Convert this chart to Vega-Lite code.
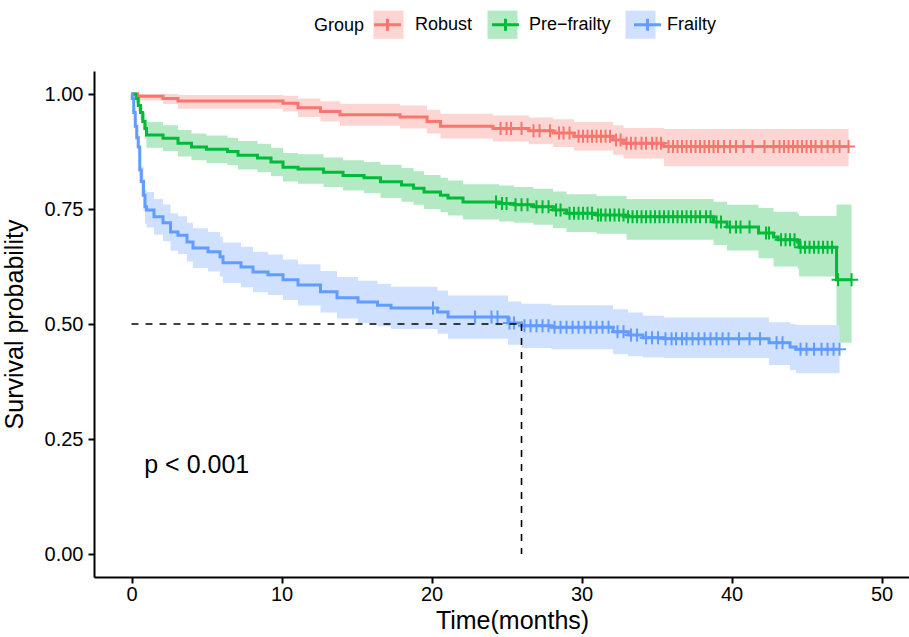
{
  "$schema": "https://vega.github.io/schema/vega-lite/v6.json",
  "width": 815,
  "height": 506,
  "autosize": {"type": "none"},
  "padding": {"left": 94, "top": 71, "right": 0, "bottom": 60},
  "background": "white",
  "config": {
    "font": "Liberation Sans",
    "view": {"stroke": null},
    "axis": {
      "domainColor": "#000000", "domainWidth": 2, "tickColor": "#000000", "tickWidth": 2, "tickSize": 6,
      "labelColor": "#000000", "labelFontSize": 20, "titleColor": "#000000", "titleFontSize": 25,
      "titleFontWeight": "normal", "grid": false, "labelFont": "Liberation Sans", "titleFont": "Liberation Sans"
    },
    "legend": {
      "titleFontWeight": "normal", "titleColor": "#000000", "labelColor": "#000000",
      "titleFontSize": 18, "labelFontSize": 18, "titleFont": "Liberation Sans", "labelFont": "Liberation Sans"
    }
  },
  "datasets": {
    "curves": [
      {"group": "Robust", "time": 0, "surv": 1, "lower": 1, "upper": 1},
      {"group": "Robust", "time": 0.4, "surv": 0.995, "lower": 0.986, "upper": 1.0},
      {"group": "Robust", "time": 2.1, "surv": 0.99, "lower": 0.978, "upper": 1.0},
      {"group": "Robust", "time": 3.1, "surv": 0.985, "lower": 0.968, "upper": 0.998},
      {"group": "Robust", "time": 10.1, "surv": 0.98, "lower": 0.962, "upper": 0.996},
      {"group": "Robust", "time": 11.1, "surv": 0.97, "lower": 0.95, "upper": 0.99},
      {"group": "Robust", "time": 12.6, "surv": 0.962, "lower": 0.94, "upper": 0.984},
      {"group": "Robust", "time": 13.9, "surv": 0.955, "lower": 0.931, "upper": 0.979},
      {"group": "Robust", "time": 17.9, "surv": 0.95, "lower": 0.925, "upper": 0.975},
      {"group": "Robust", "time": 19.7, "surv": 0.94, "lower": 0.914, "upper": 0.966},
      {"group": "Robust", "time": 20.6, "surv": 0.93, "lower": 0.903, "upper": 0.957},
      {"group": "Robust", "time": 24.1, "surv": 0.925, "lower": 0.897, "upper": 0.953},
      {"group": "Robust", "time": 26.5, "surv": 0.92, "lower": 0.891, "upper": 0.949},
      {"group": "Robust", "time": 28.1, "surv": 0.915, "lower": 0.885, "upper": 0.945},
      {"group": "Robust", "time": 29.5, "surv": 0.908, "lower": 0.877, "upper": 0.939},
      {"group": "Robust", "time": 32.1, "surv": 0.9, "lower": 0.868, "upper": 0.932},
      {"group": "Robust", "time": 32.8, "surv": 0.893, "lower": 0.86, "upper": 0.926},
      {"group": "Robust", "time": 35.5, "surv": 0.886, "lower": 0.843, "upper": 0.924},
      {"group": "Robust", "time": 47.8, "surv": 0.886, "lower": 0.843, "upper": 0.924},

      {"group": "Pre−frailty", "time": 0, "surv": 1, "lower": 1, "upper": 1},
      {"group": "Pre−frailty", "time": 0.3, "surv": 0.99, "lower": 0.98, "upper": 1.0},
      {"group": "Pre−frailty", "time": 0.45, "surv": 0.975, "lower": 0.962, "upper": 0.988},
      {"group": "Pre−frailty", "time": 0.6, "surv": 0.96, "lower": 0.944, "upper": 0.976},
      {"group": "Pre−frailty", "time": 0.75, "surv": 0.94, "lower": 0.922, "upper": 0.958},
      {"group": "Pre−frailty", "time": 0.9, "surv": 0.925, "lower": 0.903, "upper": 0.947},
      {"group": "Pre−frailty", "time": 1.0, "surv": 0.911, "lower": 0.883, "upper": 0.939},
      {"group": "Pre−frailty", "time": 2.1, "surv": 0.904, "lower": 0.876, "upper": 0.932},
      {"group": "Pre−frailty", "time": 3.1, "surv": 0.893, "lower": 0.864, "upper": 0.922},
      {"group": "Pre−frailty", "time": 4.0, "surv": 0.885, "lower": 0.856, "upper": 0.914},
      {"group": "Pre−frailty", "time": 5.0, "surv": 0.88, "lower": 0.85, "upper": 0.91},
      {"group": "Pre−frailty", "time": 6.4, "surv": 0.875, "lower": 0.845, "upper": 0.905},
      {"group": "Pre−frailty", "time": 7.1, "surv": 0.867, "lower": 0.836, "upper": 0.898},
      {"group": "Pre−frailty", "time": 8.4, "surv": 0.861, "lower": 0.83, "upper": 0.892},
      {"group": "Pre−frailty", "time": 9.3, "surv": 0.852, "lower": 0.821, "upper": 0.883},
      {"group": "Pre−frailty", "time": 10.1, "surv": 0.841, "lower": 0.81, "upper": 0.872},
      {"group": "Pre−frailty", "time": 11.1, "surv": 0.837, "lower": 0.805, "upper": 0.869},
      {"group": "Pre−frailty", "time": 12.8, "surv": 0.83, "lower": 0.798, "upper": 0.862},
      {"group": "Pre−frailty", "time": 14.1, "surv": 0.823, "lower": 0.79, "upper": 0.856},
      {"group": "Pre−frailty", "time": 15.5, "surv": 0.818, "lower": 0.784, "upper": 0.852},
      {"group": "Pre−frailty", "time": 16.6, "surv": 0.809, "lower": 0.774, "upper": 0.846},
      {"group": "Pre−frailty", "time": 18.0, "surv": 0.802, "lower": 0.766, "upper": 0.839},
      {"group": "Pre−frailty", "time": 18.8, "surv": 0.795, "lower": 0.759, "upper": 0.832},
      {"group": "Pre−frailty", "time": 19.5, "surv": 0.787, "lower": 0.75, "upper": 0.824},
      {"group": "Pre−frailty", "time": 20.6, "surv": 0.78, "lower": 0.743, "upper": 0.818},
      {"group": "Pre−frailty", "time": 21.1, "surv": 0.774, "lower": 0.736, "upper": 0.812},
      {"group": "Pre−frailty", "time": 22.1, "surv": 0.765, "lower": 0.727, "upper": 0.804},
      {"group": "Pre−frailty", "time": 24.5, "surv": 0.762, "lower": 0.723, "upper": 0.801},
      {"group": "Pre−frailty", "time": 25.5, "surv": 0.759, "lower": 0.72, "upper": 0.798},
      {"group": "Pre−frailty", "time": 26.8, "surv": 0.755, "lower": 0.716, "upper": 0.794},
      {"group": "Pre−frailty", "time": 28.1, "surv": 0.748, "lower": 0.708, "upper": 0.788},
      {"group": "Pre−frailty", "time": 29.0, "surv": 0.741, "lower": 0.7, "upper": 0.782},
      {"group": "Pre−frailty", "time": 31.0, "surv": 0.737, "lower": 0.696, "upper": 0.778},
      {"group": "Pre−frailty", "time": 33.0, "surv": 0.733, "lower": 0.683, "upper": 0.772},
      {"group": "Pre−frailty", "time": 38.8, "surv": 0.722, "lower": 0.672, "upper": 0.766},
      {"group": "Pre−frailty", "time": 39.7, "surv": 0.711, "lower": 0.66, "upper": 0.759},
      {"group": "Pre−frailty", "time": 41.8, "surv": 0.698, "lower": 0.643, "upper": 0.752},
      {"group": "Pre−frailty", "time": 42.8, "surv": 0.689, "lower": 0.625, "upper": 0.744},
      {"group": "Pre−frailty", "time": 43.1, "surv": 0.683, "lower": 0.625, "upper": 0.744},
      {"group": "Pre−frailty", "time": 44.4, "surv": 0.678, "lower": 0.62, "upper": 0.74},
      {"group": "Pre−frailty", "time": 44.5, "surv": 0.667, "lower": 0.603, "upper": 0.735},
      {"group": "Pre−frailty", "time": 47.0, "surv": 0.596, "lower": 0.459, "upper": 0.76},
      {"group": "Pre−frailty", "time": 48.0, "surv": 0.596, "lower": 0.459, "upper": 0.76},

      {"group": "Frailty", "time": 0, "surv": 1, "lower": 1, "upper": 1},
      {"group": "Frailty", "time": 0.05, "surv": 0.99, "lower": 0.98, "upper": 1.0},
      {"group": "Frailty", "time": 0.15, "surv": 0.96, "lower": 0.945, "upper": 0.975},
      {"group": "Frailty", "time": 0.25, "surv": 0.93, "lower": 0.912, "upper": 0.948},
      {"group": "Frailty", "time": 0.35, "surv": 0.905, "lower": 0.884, "upper": 0.926},
      {"group": "Frailty", "time": 0.45, "surv": 0.885, "lower": 0.861, "upper": 0.909},
      {"group": "Frailty", "time": 0.55, "surv": 0.835, "lower": 0.806, "upper": 0.864},
      {"group": "Frailty", "time": 0.65, "surv": 0.81, "lower": 0.778, "upper": 0.842},
      {"group": "Frailty", "time": 0.8, "surv": 0.78, "lower": 0.745, "upper": 0.815},
      {"group": "Frailty", "time": 0.9, "surv": 0.755, "lower": 0.718, "upper": 0.792},
      {"group": "Frailty", "time": 1.0, "surv": 0.748, "lower": 0.71, "upper": 0.787},
      {"group": "Frailty", "time": 1.5, "surv": 0.733, "lower": 0.694, "upper": 0.772},
      {"group": "Frailty", "time": 2.1, "surv": 0.72, "lower": 0.68, "upper": 0.76},
      {"group": "Frailty", "time": 2.6, "surv": 0.7, "lower": 0.659, "upper": 0.741},
      {"group": "Frailty", "time": 3.1, "surv": 0.693, "lower": 0.652, "upper": 0.734},
      {"group": "Frailty", "time": 3.7, "surv": 0.678, "lower": 0.636, "upper": 0.72},
      {"group": "Frailty", "time": 4.1, "surv": 0.665, "lower": 0.622, "upper": 0.708},
      {"group": "Frailty", "time": 5.1, "surv": 0.657, "lower": 0.614, "upper": 0.7},
      {"group": "Frailty", "time": 5.9, "surv": 0.646, "lower": 0.603, "upper": 0.689},
      {"group": "Frailty", "time": 6.1, "surv": 0.633, "lower": 0.589, "upper": 0.677},
      {"group": "Frailty", "time": 7.3, "surv": 0.624, "lower": 0.58, "upper": 0.668},
      {"group": "Frailty", "time": 8.1, "surv": 0.613, "lower": 0.569, "upper": 0.657},
      {"group": "Frailty", "time": 9.1, "surv": 0.607, "lower": 0.563, "upper": 0.651},
      {"group": "Frailty", "time": 10.1, "surv": 0.596, "lower": 0.552, "upper": 0.64},
      {"group": "Frailty", "time": 11.1, "surv": 0.585, "lower": 0.54, "upper": 0.63},
      {"group": "Frailty", "time": 12.6, "surv": 0.57, "lower": 0.525, "upper": 0.615},
      {"group": "Frailty", "time": 13.7, "surv": 0.557, "lower": 0.512, "upper": 0.602},
      {"group": "Frailty", "time": 15.1, "surv": 0.548, "lower": 0.502, "upper": 0.594},
      {"group": "Frailty", "time": 16.4, "surv": 0.541, "lower": 0.495, "upper": 0.587},
      {"group": "Frailty", "time": 17.3, "surv": 0.535, "lower": 0.489, "upper": 0.581},
      {"group": "Frailty", "time": 20.4, "surv": 0.526, "lower": 0.479, "upper": 0.573},
      {"group": "Frailty", "time": 21.1, "surv": 0.515, "lower": 0.468, "upper": 0.562},
      {"group": "Frailty", "time": 25.1, "surv": 0.502, "lower": 0.455, "upper": 0.549},
      {"group": "Frailty", "time": 26.0, "surv": 0.496, "lower": 0.448, "upper": 0.544},
      {"group": "Frailty", "time": 28.0, "surv": 0.493, "lower": 0.445, "upper": 0.541},
      {"group": "Frailty", "time": 32.1, "surv": 0.483, "lower": 0.434, "upper": 0.532},
      {"group": "Frailty", "time": 33.1, "surv": 0.476, "lower": 0.43, "upper": 0.525},
      {"group": "Frailty", "time": 34.1, "surv": 0.47, "lower": 0.427, "upper": 0.518},
      {"group": "Frailty", "time": 35.5, "surv": 0.468, "lower": 0.426, "upper": 0.514},
      {"group": "Frailty", "time": 42.5, "surv": 0.459, "lower": 0.411, "upper": 0.504},
      {"group": "Frailty", "time": 43.9, "surv": 0.45, "lower": 0.4, "upper": 0.5},
      {"group": "Frailty", "time": 44.3, "surv": 0.445, "lower": 0.393, "upper": 0.498},
      {"group": "Frailty", "time": 47.2, "surv": 0.445, "lower": 0.393, "upper": 0.498}
    ],
    "censor": [
      {"group": "Robust", "time": 24.6, "surv": 0.925}, {"group": "Robust", "time": 25.0, "surv": 0.925},
      {"group": "Robust", "time": 25.3, "surv": 0.925}, {"group": "Robust", "time": 26.0, "surv": 0.925},
      {"group": "Robust", "time": 26.8, "surv": 0.92}, {"group": "Robust", "time": 27.2, "surv": 0.92},
      {"group": "Robust", "time": 27.9, "surv": 0.92}, {"group": "Robust", "time": 28.5, "surv": 0.915},
      {"group": "Robust", "time": 28.8, "surv": 0.915}, {"group": "Robust", "time": 29.2, "surv": 0.915},
      {"group": "Robust", "time": 29.8, "surv": 0.908}, {"group": "Robust", "time": 30.1, "surv": 0.908},
      {"group": "Robust", "time": 30.4, "surv": 0.908}, {"group": "Robust", "time": 30.7, "surv": 0.908},
      {"group": "Robust", "time": 31.0, "surv": 0.908}, {"group": "Robust", "time": 31.3, "surv": 0.908},
      {"group": "Robust", "time": 31.6, "surv": 0.908}, {"group": "Robust", "time": 31.9, "surv": 0.908},
      {"group": "Robust", "time": 32.3, "surv": 0.9}, {"group": "Robust", "time": 32.6, "surv": 0.9},
      {"group": "Robust", "time": 33.0, "surv": 0.893}, {"group": "Robust", "time": 33.3, "surv": 0.893},
      {"group": "Robust", "time": 33.6, "surv": 0.893}, {"group": "Robust", "time": 34.0, "surv": 0.893},
      {"group": "Robust", "time": 34.3, "surv": 0.893}, {"group": "Robust", "time": 34.7, "surv": 0.893},
      {"group": "Robust", "time": 35.0, "surv": 0.893}, {"group": "Robust", "time": 35.3, "surv": 0.893},
      {"group": "Robust", "time": 35.8, "surv": 0.886}, {"group": "Robust", "time": 36.1, "surv": 0.886},
      {"group": "Robust", "time": 36.4, "surv": 0.886}, {"group": "Robust", "time": 36.7, "surv": 0.886},
      {"group": "Robust", "time": 37.0, "surv": 0.886}, {"group": "Robust", "time": 37.3, "surv": 0.886},
      {"group": "Robust", "time": 37.6, "surv": 0.886}, {"group": "Robust", "time": 37.9, "surv": 0.886},
      {"group": "Robust", "time": 38.2, "surv": 0.886}, {"group": "Robust", "time": 38.5, "surv": 0.886},
      {"group": "Robust", "time": 38.8, "surv": 0.886}, {"group": "Robust", "time": 39.1, "surv": 0.886},
      {"group": "Robust", "time": 39.5, "surv": 0.886}, {"group": "Robust", "time": 39.9, "surv": 0.886},
      {"group": "Robust", "time": 40.3, "surv": 0.886}, {"group": "Robust", "time": 40.8, "surv": 0.886},
      {"group": "Robust", "time": 41.4, "surv": 0.886}, {"group": "Robust", "time": 42.2, "surv": 0.886},
      {"group": "Robust", "time": 42.8, "surv": 0.886}, {"group": "Robust", "time": 43.2, "surv": 0.886},
      {"group": "Robust", "time": 43.5, "surv": 0.886}, {"group": "Robust", "time": 43.8, "surv": 0.886},
      {"group": "Robust", "time": 44.1, "surv": 0.886}, {"group": "Robust", "time": 44.4, "surv": 0.886},
      {"group": "Robust", "time": 44.7, "surv": 0.886}, {"group": "Robust", "time": 45.0, "surv": 0.886},
      {"group": "Robust", "time": 45.3, "surv": 0.886}, {"group": "Robust", "time": 45.6, "surv": 0.886},
      {"group": "Robust", "time": 46.0, "surv": 0.886}, {"group": "Robust", "time": 46.4, "surv": 0.886},
      {"group": "Robust", "time": 46.8, "surv": 0.886}, {"group": "Robust", "time": 47.2, "surv": 0.886},
      {"group": "Robust", "time": 47.8, "surv": 0.886},

      {"group": "Pre−frailty", "time": 24.3, "surv": 0.765}, {"group": "Pre−frailty", "time": 24.7, "surv": 0.762},
      {"group": "Pre−frailty", "time": 25.0, "surv": 0.762}, {"group": "Pre−frailty", "time": 25.6, "surv": 0.759},
      {"group": "Pre−frailty", "time": 26.0, "surv": 0.759}, {"group": "Pre−frailty", "time": 26.4, "surv": 0.759},
      {"group": "Pre−frailty", "time": 27.0, "surv": 0.755}, {"group": "Pre−frailty", "time": 27.4, "surv": 0.755},
      {"group": "Pre−frailty", "time": 27.8, "surv": 0.755}, {"group": "Pre−frailty", "time": 28.3, "surv": 0.748},
      {"group": "Pre−frailty", "time": 28.6, "surv": 0.748}, {"group": "Pre−frailty", "time": 29.2, "surv": 0.741},
      {"group": "Pre−frailty", "time": 29.5, "surv": 0.741}, {"group": "Pre−frailty", "time": 29.8, "surv": 0.741},
      {"group": "Pre−frailty", "time": 30.1, "surv": 0.741}, {"group": "Pre−frailty", "time": 30.4, "surv": 0.741},
      {"group": "Pre−frailty", "time": 30.7, "surv": 0.741}, {"group": "Pre−frailty", "time": 31.1, "surv": 0.737},
      {"group": "Pre−frailty", "time": 31.3, "surv": 0.737}, {"group": "Pre−frailty", "time": 31.6, "surv": 0.737},
      {"group": "Pre−frailty", "time": 31.9, "surv": 0.737}, {"group": "Pre−frailty", "time": 32.2, "surv": 0.737},
      {"group": "Pre−frailty", "time": 32.5, "surv": 0.737}, {"group": "Pre−frailty", "time": 32.8, "surv": 0.737},
      {"group": "Pre−frailty", "time": 33.1, "surv": 0.733}, {"group": "Pre−frailty", "time": 33.4, "surv": 0.733},
      {"group": "Pre−frailty", "time": 33.7, "surv": 0.733}, {"group": "Pre−frailty", "time": 34.0, "surv": 0.733},
      {"group": "Pre−frailty", "time": 34.3, "surv": 0.733}, {"group": "Pre−frailty", "time": 34.6, "surv": 0.733},
      {"group": "Pre−frailty", "time": 34.9, "surv": 0.733}, {"group": "Pre−frailty", "time": 35.2, "surv": 0.733},
      {"group": "Pre−frailty", "time": 35.5, "surv": 0.733}, {"group": "Pre−frailty", "time": 35.8, "surv": 0.733},
      {"group": "Pre−frailty", "time": 36.1, "surv": 0.733}, {"group": "Pre−frailty", "time": 36.4, "surv": 0.733},
      {"group": "Pre−frailty", "time": 36.7, "surv": 0.733}, {"group": "Pre−frailty", "time": 37.0, "surv": 0.733},
      {"group": "Pre−frailty", "time": 37.3, "surv": 0.733}, {"group": "Pre−frailty", "time": 37.6, "surv": 0.733},
      {"group": "Pre−frailty", "time": 37.9, "surv": 0.733}, {"group": "Pre−frailty", "time": 38.3, "surv": 0.733},
      {"group": "Pre−frailty", "time": 38.6, "surv": 0.733}, {"group": "Pre−frailty", "time": 39.0, "surv": 0.722},
      {"group": "Pre−frailty", "time": 39.3, "surv": 0.722}, {"group": "Pre−frailty", "time": 39.9, "surv": 0.711},
      {"group": "Pre−frailty", "time": 40.3, "surv": 0.711}, {"group": "Pre−frailty", "time": 40.6, "surv": 0.711},
      {"group": "Pre−frailty", "time": 41.2, "surv": 0.711}, {"group": "Pre−frailty", "time": 42.3, "surv": 0.698},
      {"group": "Pre−frailty", "time": 42.5, "surv": 0.698}, {"group": "Pre−frailty", "time": 43.3, "surv": 0.683},
      {"group": "Pre−frailty", "time": 43.6, "surv": 0.683}, {"group": "Pre−frailty", "time": 43.9, "surv": 0.683},
      {"group": "Pre−frailty", "time": 44.2, "surv": 0.683}, {"group": "Pre−frailty", "time": 44.6, "surv": 0.667},
      {"group": "Pre−frailty", "time": 44.9, "surv": 0.667}, {"group": "Pre−frailty", "time": 45.2, "surv": 0.667},
      {"group": "Pre−frailty", "time": 45.5, "surv": 0.667}, {"group": "Pre−frailty", "time": 45.8, "surv": 0.667},
      {"group": "Pre−frailty", "time": 46.1, "surv": 0.667}, {"group": "Pre−frailty", "time": 46.4, "surv": 0.667},
      {"group": "Pre−frailty", "time": 46.7, "surv": 0.667}, {"group": "Pre−frailty", "time": 47.1, "surv": 0.596},
      {"group": "Pre−frailty", "time": 48.0, "surv": 0.596},

      {"group": "Frailty", "time": 20.1, "surv": 0.535}, {"group": "Frailty", "time": 22.9, "surv": 0.515},
      {"group": "Frailty", "time": 24.0, "surv": 0.515}, {"group": "Frailty", "time": 24.4, "surv": 0.515},
      {"group": "Frailty", "time": 25.2, "surv": 0.502}, {"group": "Frailty", "time": 25.5, "surv": 0.502},
      {"group": "Frailty", "time": 26.2, "surv": 0.496}, {"group": "Frailty", "time": 26.6, "surv": 0.496},
      {"group": "Frailty", "time": 27.0, "surv": 0.496}, {"group": "Frailty", "time": 27.4, "surv": 0.496},
      {"group": "Frailty", "time": 27.8, "surv": 0.496}, {"group": "Frailty", "time": 28.2, "surv": 0.493},
      {"group": "Frailty", "time": 28.6, "surv": 0.493}, {"group": "Frailty", "time": 29.0, "surv": 0.493},
      {"group": "Frailty", "time": 29.4, "surv": 0.493}, {"group": "Frailty", "time": 29.8, "surv": 0.493},
      {"group": "Frailty", "time": 30.2, "surv": 0.493}, {"group": "Frailty", "time": 30.6, "surv": 0.493},
      {"group": "Frailty", "time": 31.0, "surv": 0.493}, {"group": "Frailty", "time": 31.4, "surv": 0.493},
      {"group": "Frailty", "time": 31.8, "surv": 0.493}, {"group": "Frailty", "time": 32.4, "surv": 0.483},
      {"group": "Frailty", "time": 32.8, "surv": 0.483}, {"group": "Frailty", "time": 33.3, "surv": 0.476},
      {"group": "Frailty", "time": 33.7, "surv": 0.476}, {"group": "Frailty", "time": 34.3, "surv": 0.47},
      {"group": "Frailty", "time": 34.7, "surv": 0.47}, {"group": "Frailty", "time": 35.1, "surv": 0.47},
      {"group": "Frailty", "time": 35.6, "surv": 0.468}, {"group": "Frailty", "time": 36.0, "surv": 0.468},
      {"group": "Frailty", "time": 36.3, "surv": 0.468}, {"group": "Frailty", "time": 36.7, "surv": 0.468},
      {"group": "Frailty", "time": 37.0, "surv": 0.468}, {"group": "Frailty", "time": 37.4, "surv": 0.468},
      {"group": "Frailty", "time": 37.8, "surv": 0.468}, {"group": "Frailty", "time": 38.2, "surv": 0.468},
      {"group": "Frailty", "time": 38.6, "surv": 0.468}, {"group": "Frailty", "time": 39.0, "surv": 0.468},
      {"group": "Frailty", "time": 39.4, "surv": 0.468}, {"group": "Frailty", "time": 39.8, "surv": 0.468},
      {"group": "Frailty", "time": 40.5, "surv": 0.468}, {"group": "Frailty", "time": 41.2, "surv": 0.468},
      {"group": "Frailty", "time": 41.9, "surv": 0.468}, {"group": "Frailty", "time": 43.0, "surv": 0.459},
      {"group": "Frailty", "time": 43.4, "surv": 0.459}, {"group": "Frailty", "time": 44.6, "surv": 0.445},
      {"group": "Frailty", "time": 45.0, "surv": 0.445}, {"group": "Frailty", "time": 45.5, "surv": 0.445},
      {"group": "Frailty", "time": 46.0, "surv": 0.445}, {"group": "Frailty", "time": 46.4, "surv": 0.445},
      {"group": "Frailty", "time": 46.8, "surv": 0.445}, {"group": "Frailty", "time": 47.2, "surv": 0.445}
    ],
    "median": [
      {"time": 0, "time2": 26, "surv": 0.5, "surv2": 0.5},
      {"time": 26, "time2": 26, "surv": 0.5, "surv2": 0}
    ],
    "annot": [
      {"time": 0.85, "surv": 0.176, "label": "p < 0.001"}
    ]
  },
  "encoding": {
    "x": {
      "field": "time", "type": "quantitative", "title": "Time(months)",
      "scale": {"domain": [-2.5, 51.83], "nice": false, "zero": false},
      "axis": {"values": [0, 10, 20, 30, 40, 50], "labelPadding": 1, "labelFlush": false, "titleX": 418, "titleY": 51, "titleBaseline": "alphabetic"}
    },
    "y": {
      "field": "surv", "type": "quantitative", "title": "Survival probability",
      "scale": {"domain": [-0.05, 1.05], "nice": false, "zero": false},
      "axis": {"values": [0, 0.25, 0.5, 0.75, 1], "format": ".2f", "labelPadding": 5, "titleX": -72, "titleY": 253, "titleBaseline": "alphabetic", "titleAngle": 270, "titleAlign": "center"}
    }
  },
  "layer": [
    {
      "data": {"name": "curves"},
      "mark": {"type": "area", "interpolate": "step-after"},
      "encoding": {
        "y": {
          "field": "lower", "type": "quantitative", "title": "Survival probability",
          "scale": {"domain": [-0.05, 1.05], "nice": false, "zero": false},
          "axis": {"values": [0, 0.25, 0.5, 0.75, 1], "format": ".2f", "labelPadding": 5, "titleX": -72, "titleY": 253, "titleBaseline": "alphabetic", "titleAngle": 270, "titleAlign": "center"}
        },
        "y2": {"field": "upper"},
        "fill": {
          "field": "group", "type": "nominal",
          "scale": {"domain": ["Robust", "Pre−frailty", "Frailty"], "range": ["#FDD6D3", "#B3EAC3", "#D0E1FF"]},
          "legend": {
            "orient": "none", "legendX": 220, "legendY": -63, "direction": "horizontal",
            "title": "Group", "titleOrient": "left", "titlePadding": 7, "titleAnchor": "middle", "titleBaseline": "middle",
            "labelOffset": 10, "columnPadding": 8,
            "symbolType": "M-1,-0.94H1V0.94H-1Z", "symbolSize": 900, "symbolStrokeWidth": 3, "symbolStrokeColor": "transparent", "symbolOpacity": 1
          }
        }
      }
    },
    {
      "data": {"name": "curves"},
      "mark": {"type": "line", "interpolate": "step-after", "strokeWidth": 3},
      "encoding": {
        "stroke": {
          "field": "group", "type": "nominal",
          "scale": {"domain": ["Robust", "Pre−frailty", "Frailty", "none"], "range": ["#F8766D", "#00BA38", "#619CFF", "#999999"]},
          "legend": {
            "values": ["Robust", "Pre−frailty", "Frailty"],
            "orient": "none", "legendX": 277, "legendY": -63, "direction": "horizontal",
            "title": null,
            "labelOffset": 10, "columnPadding": 8,
            "labelExpr": "''",
            "symbolType": "M-0.9,0H0.9M0,-0.4V0.4", "symbolSize": 900, "symbolStrokeWidth": 3, "symbolFillColor": "transparent",
            "encode": {
              "symbols": {
                "update": {
                  "shape": {"signal": "datum.value == 'Robust' ? 'M-0.9,0H0.9M0,-0.4V0.4M5.567,0h0.0001' : (datum.value == 'Frailty' ? 'M-0.9,0H0.9M0,-0.4V0.4' : 'M-0.9,0H0.9M0,-0.4V0.4M7.2,0h0.0001')"}
                }
              }
            }
          }
        }
      }
    },
    {
      "data": {"name": "censor"},
      "mark": {"type": "point", "shape": "M0,-1V1M-1,0H1", "size": 169, "strokeWidth": 2, "filled": false, "opacity": 1},
      "encoding": {
        "stroke": {"field": "group", "type": "nominal", "legend": null}
      }
    },
    {
      "data": {"name": "median"},
      "mark": {"type": "rule", "color": "#000000", "strokeWidth": 1.6, "strokeDash": [7, 7]},
      "encoding": {
        "x2": {"field": "time2"},
        "y2": {"field": "surv2"}
      }
    },
    {
      "data": {"name": "annot"},
      "mark": {"type": "text", "align": "left", "baseline": "alphabetic", "fontSize": 25, "font": "Liberation Sans", "color": "#000000"},
      "encoding": {
        "text": {"field": "label"}
      }
    }
  ]
}
